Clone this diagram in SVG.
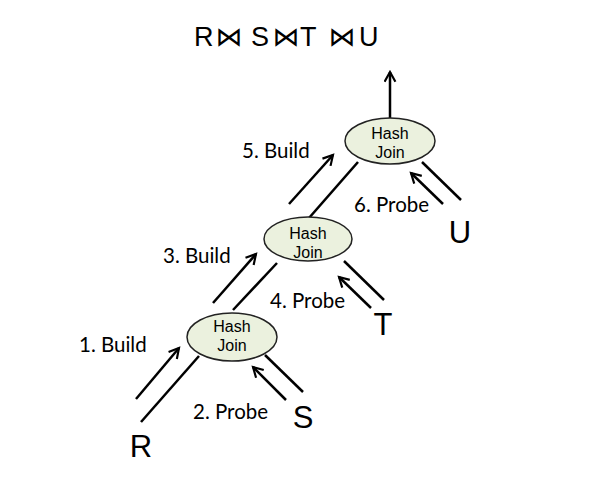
<svg xmlns="http://www.w3.org/2000/svg" width="600" height="482" viewBox="0 0 600 482">
<defs>
<style>
.edge{stroke:#000;stroke-width:2.5;fill:none;stroke-linecap:butt}
.arr{stroke:#000;stroke-width:2.5;fill:none;marker-end:url(#ah)}
.node ellipse{fill:#ebf1de;stroke:#222;stroke-width:1.5}
.node text{font-family:"Liberation Sans",Arial,sans-serif;font-size:16px;fill:#000;text-anchor:middle}
.lbl{font-family:Lato,"Open Sans",sans-serif;font-size:20.5px;fill:#000}
.rel{font-family:"Liberation Sans",Arial,sans-serif;font-size:31px;fill:#000;text-anchor:middle}
.title{font-family:"Liberation Sans",sans-serif;font-size:27px;fill:#000}
.bt{font-family:"Noto Sans CJK JP","DejaVu Sans",sans-serif;font-size:27px;fill:#000;text-anchor:middle}
</style>
<marker id="ah" viewBox="0 0 12 12" refX="10" refY="6" markerWidth="13" markerHeight="13" markerUnits="userSpaceOnUse" orient="auto">
<path d="M1,1 L10,6 L1,11" fill="none" stroke="#000" stroke-width="2"/>
</marker>
</defs>
<rect width="600" height="482" fill="#fff"/>
<g id="title">
<text class="title" x="194" y="46">R</text>
<text class="bt" x="229" y="46">⋈</text>
<text class="title" x="251" y="46">S</text>
<text class="bt" x="286" y="46">⋈</text>
<text class="title" x="300" y="46">T</text>
<text class="bt" x="342" y="46">⋈</text>
<text class="title" x="359" y="46">U</text>
</g>
<g id="connectors">
<line class="arr" x1="390" y1="118" x2="390" y2="72"/>
<line class="edge" x1="141" y1="422" x2="199" y2="356"/>
<line class="arr" x1="136" y1="399" x2="179" y2="348"/>
<line class="edge" x1="233" y1="310" x2="277" y2="263"/>
<line class="arr" x1="213" y1="303" x2="256" y2="254"/>
<line class="edge" x1="309" y1="218" x2="358" y2="162"/>
<line class="arr" x1="289" y1="204" x2="333" y2="155"/>
<line class="edge" x1="265" y1="355" x2="303" y2="392"/>
<line class="arr" x1="286" y1="400" x2="253" y2="367"/>
<line class="edge" x1="344" y1="261" x2="384" y2="300"/>
<line class="arr" x1="371" y1="308" x2="339" y2="277"/>
<line class="edge" x1="422" y1="162" x2="461" y2="200"/>
<line class="arr" x1="443" y1="204" x2="411" y2="173"/>
</g>
<g id="join1" class="node">
<ellipse cx="232" cy="337" rx="45" ry="24"/>
<text x="232" y="332">Hash</text>
<text x="232" y="351">Join</text>
</g>
<g id="join2" class="node">
<ellipse cx="308" cy="239" rx="44" ry="22"/>
<text x="308" y="239">Hash</text>
<text x="308" y="258">Join</text>
</g>
<g id="join3" class="node">
<ellipse cx="390" cy="141" rx="45" ry="23"/>
<text x="390" y="139">Hash</text>
<text x="390" y="158">Join</text>
</g>
<g id="R"><text class="rel" x="141" y="457">R</text></g>
<g id="S"><text class="rel" x="303" y="428">S</text></g>
<g id="T"><text class="rel" x="383" y="335">T</text></g>
<g id="U"><text class="rel" x="460" y="243">U</text></g>
<g id="labels">
<text class="lbl" x="79" y="352">1. Build</text>
<text class="lbl" x="193" y="419">2. Probe</text>
<text class="lbl" x="163" y="263">3. Build</text>
<text class="lbl" x="270" y="308">4. Probe</text>
<text class="lbl" x="242" y="158">5. Build</text>
<text class="lbl" x="354" y="212">6. Probe</text>
</g>
</svg>
